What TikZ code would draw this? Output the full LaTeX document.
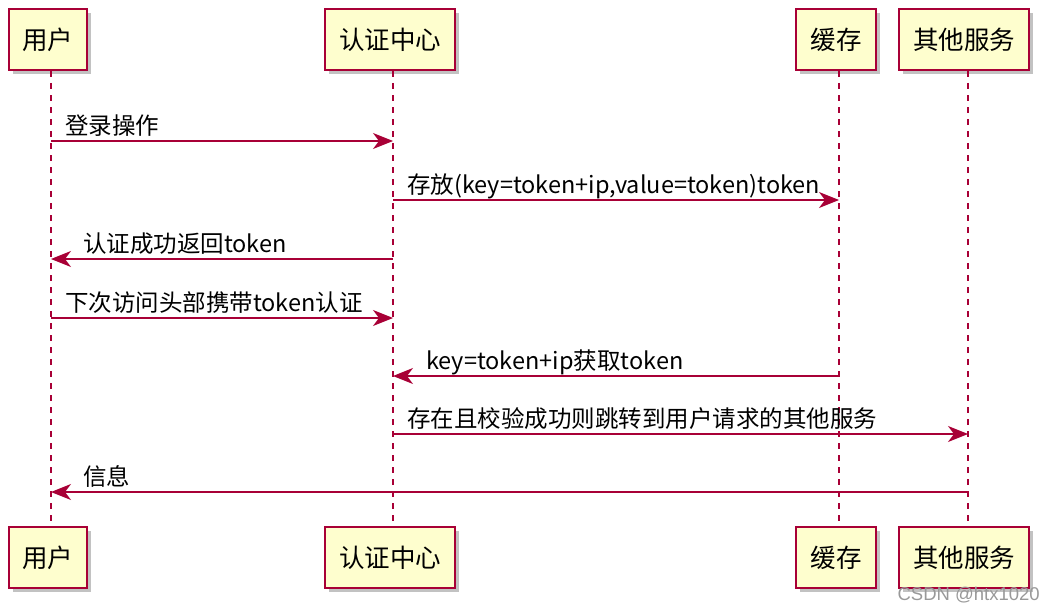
\documentclass[tikz,border=0pt]{standalone}
\usepackage{fontspec}
\setmainfont{Noto Sans CJK SC}
\newfontfamily\wmfont{Liberation Sans}
\usetikzlibrary{arrows.meta,shadows}
\definecolor{puborder}{HTML}{A80036}
\definecolor{pufill}{HTML}{FEFECE}
\tikzset{
  part/.style={draw=puborder, line width=1.8pt, fill=pufill, minimum height=61pt, inner xsep=0pt,
    font=\fontsize{25.5}{30}\selectfont, drop shadow={shadow xshift=4pt, shadow yshift=-4pt, opacity=0.4, fill=black!60}},
  life/.style={draw=puborder, line width=1.2pt, dash pattern=on 6pt off 6pt},
  msg/.style={draw=puborder, line width=1.3pt, -{Stealth[length=20pt,width=16pt,inset=6pt]}},
  lbl/.style={font=\fontsize{23.5}{27}\selectfont, anchor=base west, inner sep=0pt},
}
\begin{document}
\begin{tikzpicture}[x=1pt,y=-1pt]
\useasboundingbox (0,0) rectangle (1055,610);
% top participants
\node[part, minimum width=78pt] (u1) at (48,39.5) {用户};
\node[part, minimum width=130pt] (a1) at (390,39.5) {认证中心};
\node[part, minimum width=80pt] (c1) at (836,39.5) {缓存};
\node[part, minimum width=130pt] (s1) at (964,39.5) {其他服务};
% bottom participants
\node[part, minimum width=78pt] (u2) at (48,557.5) {用户};
\node[part, minimum width=130pt] (a2) at (390,557.5) {认证中心};
\node[part, minimum width=80pt] (c2) at (836,557.5) {缓存};
\node[part, minimum width=130pt] (s2) at (964,557.5) {其他服务};
% lifeline coordinates
\coordinate (ut) at (51,71); \coordinate (ub) at (51,527);
\coordinate (at) at (393,71); \coordinate (ab) at (393,527);
\coordinate (ct) at (839,71); \coordinate (cb) at (839,527);
\coordinate (st) at (968,71); \coordinate (sb) at (968,527);
\draw[life] (ut) -- (ub);
\draw[life] (at) -- (ab);
\draw[life] (ct) -- (cb);
\draw[life] (st) -- (sb);
% message points
\coordinate (m1a) at (51,141);  \coordinate (m1b) at (393,141);
\coordinate (m2a) at (393,200); \coordinate (m2b) at (839,200);
\coordinate (m3a) at (393,259); \coordinate (m3b) at (51,259);
\coordinate (m4a) at (51,318);  \coordinate (m4b) at (393,318);
\coordinate (m5a) at (839,376); \coordinate (m5b) at (393,376);
\coordinate (m6a) at (393,434); \coordinate (m6b) at (968,434);
\coordinate (m7a) at (968,492); \coordinate (m7b) at (51,492);
\draw[msg] (m1a) -- (m1b);
\draw[msg] (m2a) -- (m2b);
\draw[msg] (m3a) -- (m3b);
\draw[msg] (m4a) -- (m4b);
\draw[msg] (m5a) -- (m5b);
\draw[msg] (m6a) -- (m6b);
\draw[msg] (m7a) -- (m7b);
\node[lbl] (l1) at (65,134) {登录操作};
\node[lbl] (l2) at (407,193) {存放(key=token+ip,value=token)token};
\node[lbl] (l3) at (83,252) {认证成功返回token};
\node[lbl] (l4) at (65,311) {下次访问头部携带token认证};
\node[lbl] (l5) at (426,369) {key=token+ip获取token};
\node[lbl] (l6) at (407,427) {存在且校验成功则跳转到用户请求的其他服务};
\node[lbl] (l7) at (83,485) {信息};
\node[font=\wmfont\fontsize{18.5}{21}\selectfont, text=black!40, anchor=base east, inner sep=0pt] (wm) at (1040,600) {CSDN @htx1020};
\end{tikzpicture}
\end{document}
